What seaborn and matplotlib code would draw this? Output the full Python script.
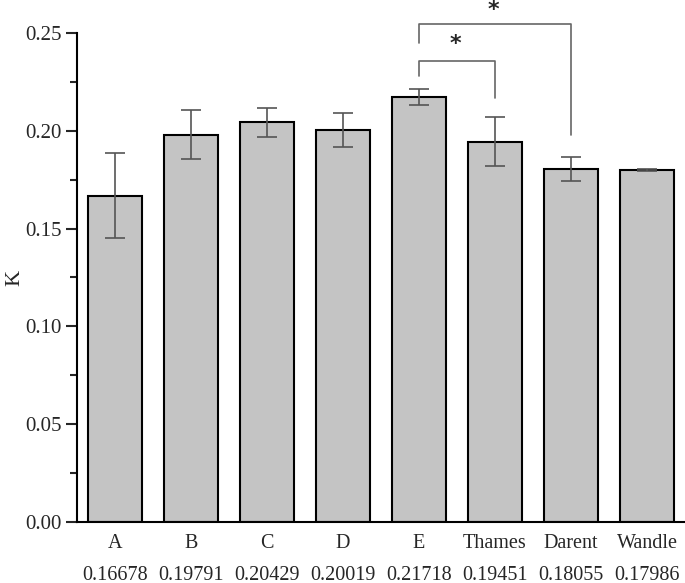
import matplotlib
matplotlib.use("Agg")
import matplotlib.pyplot as plt
import seaborn as sns
import pandas as pd
import numpy as np
from matplotlib.ticker import MultipleLocator

categories = ["A", "B", "C", "D", "E", "Thames", "Darent", "Wandle"]
values = [0.16678, 0.19791, 0.20429, 0.20019, 0.21718, 0.19451, 0.18055, 0.17986]
errors = [0.0217, 0.0125, 0.0075, 0.0087, 0.0041, 0.0126, 0.0063, 0.0005]
tick_labels = [f"{c}\n\n{v:.5f}" for c, v in zip(categories, values)]

sns.set_style("ticks")
plt.rcParams["font.family"] = ["Liberation Serif", "DejaVu Serif"]

df = pd.DataFrame({"cat": categories, "K": values})

fig = plt.figure(figsize=(6.85, 5.83), dpi=100)
ax = fig.add_axes([77/685, 61/583, 1 - 77/685, (522-33)/583])

sns.barplot(data=df, x="cat", y="K", color="#c4c4c4", saturation=1,
            edgecolor="black", linewidth=1.5, width=0.71, errorbar=None, ax=ax)
ax.errorbar(np.arange(len(categories)), values, yerr=errors, fmt="none",
            ecolor="#555555", elinewidth=1.2, capsize=7, capthick=1.2, zorder=3)

ax.set_xlim(-0.5, 7.5)
ax.set_ylim(0, 0.25)
ax.yaxis.set_major_locator(MultipleLocator(0.05))
ax.yaxis.set_minor_locator(MultipleLocator(0.025))
ax.yaxis.set_major_formatter(matplotlib.ticker.FormatStrFormatter("%.2f"))
ax.set_xticks(range(len(categories)))
ax.set_xticklabels(tick_labels, fontsize=14.5, linespacing=0.75)
ax.tick_params(axis="x", length=0, pad=9)
ax.tick_params(axis="y", which="major", length=8, width=1.5, labelsize=15, direction="out", pad=3)
ax.tick_params(axis="y", which="minor", length=5, width=1.5, direction="out")
ax.set_xlabel("")
ax.set_ylabel("K", fontsize=16)
ax.yaxis.set_label_coords(-0.086, 0.5)
for s in ["top", "right"]:
    ax.spines[s].set_visible(False)
for s in ["left", "bottom"]:
    ax.spines[s].set_linewidth(1.5)
    ax.spines[s].set_color("black")

# significance brackets
bc = "#666666"
ax.plot([4, 4, 5, 5], [0.2279, 0.2356, 0.2356, 0.2167], color=bc, lw=1.2, clip_on=False)
ax.text(4.48, 0.2495, "*", ha="center", va="top", fontsize=16, fontweight="bold",
        family="DejaVu Sans", clip_on=False)
ax.plot([4, 4, 6, 6], [0.2449, 0.2545, 0.2545, 0.1978], color=bc, lw=1.2, clip_on=False)
ax.text(4.98, 0.2668, "*", ha="center", va="top", fontsize=16, fontweight="bold",
        family="DejaVu Sans", clip_on=False)

fig.savefig("out.png", dpi=100)
